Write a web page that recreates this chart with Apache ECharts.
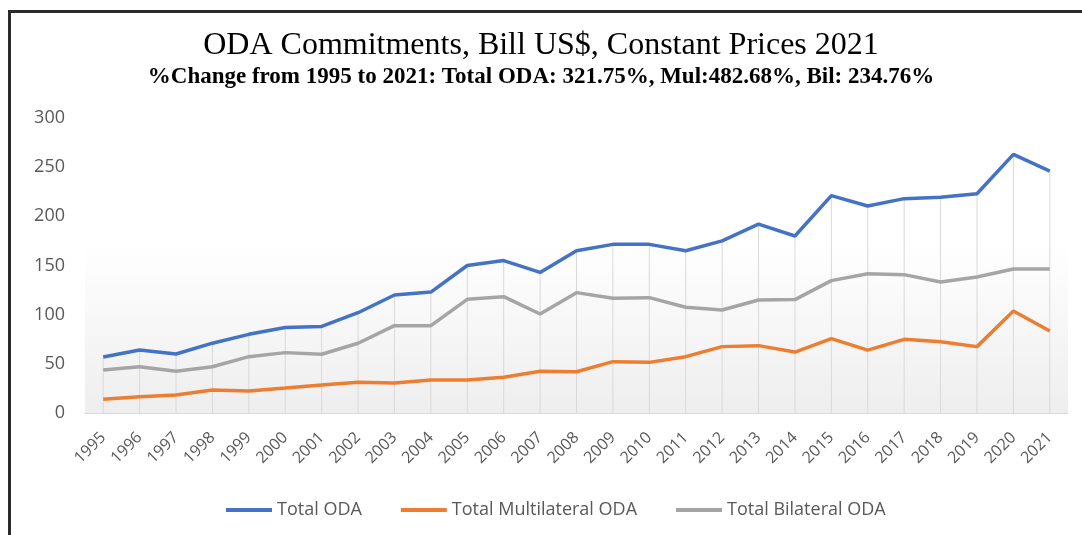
<!DOCTYPE html>
<html>
<head>
<meta charset="utf-8">
<script src="https://cdn.jsdelivr.net/npm/echarts@6/dist/echarts.min.js"></script>
<style>
  html, body { margin: 0; padding: 0; background: #fff; }
  #chart { width: 1082px; height: 535px; }
</style>
</head>
<body>
<div id="chart"></div>
<script>
const years = ["1995","1996","1997","1998","1999","2000","2001","2002","2003","2004","2005","2006","2007",
  "2008","2009","2010","2011","2012","2013","2014","2015","2016","2017","2018","2019","2020","2021"];

const totalOda = [57, 64, 60, 71, 80, 87, 88, 102, 120, 123, 150, 155, 143,
  165, 171.5, 171.5, 165, 175, 192, 180, 221, 210.5, 218, 219.5, 223, 263, 246];

const multilateralOda = [14, 16.6, 18.3, 23.4, 22.4, 25.4, 28.5, 31.2, 30.5, 33.6, 33.6, 36.3, 42.4,
  42, 52.2, 51.5, 57.3, 67.5, 68.5, 62, 75.6, 64, 74.9, 72.5, 67.5, 103.7, 83.4];

const bilateralOda = [43.7, 47, 42.4, 47, 57.3, 61.4, 59.7, 70.9, 88.8, 88.8, 115.6, 118.3, 100.7,
  122.4, 116.6, 117.3, 107.5, 104.7, 114.9, 115.3, 134.6, 141.7, 140.7, 133.2, 138.3, 146.4, 146.4];

const titleText = "ODA Commitments, Bill US$, Constant Prices 2021";
const subtitleText = "%Change from 1995 to 2021: Total ODA: 321.75%, Mul:482.68%, Bil: 234.76%";

const labelColor = "#595959";
const sansFont = "Open Sans";

const chart = echarts.init(document.getElementById("chart"));

chart.setOption({
  animation: false,
  backgroundColor: "#ffffff",
  title: {
    text: titleText,
    subtext: subtitleText,
    left: "center",
    top: 25,
    itemGap: 4,
    textStyle: {
      fontFamily: "Liberation Serif",
      fontWeight: "normal",
      fontSize: 32,
      color: "#000"
    },
    subtextStyle: {
      fontFamily: "Liberation Serif",
      fontWeight: "bold",
      fontSize: 23,
      color: "#000"
    }
  },
  // frame lines at the top and on the left
  graphic: [
    { type: "rect", shape: { x: 8, y: 10, width: 1074, height: 3 }, style: { fill: "#2b2b2b" } },
    { type: "rect", shape: { x: 8, y: 10, width: 3, height: 525 }, style: { fill: "#2b2b2b" } }
  ],
  legend: {
    data: ["Total ODA", "Total Multilateral ODA", "Total Bilateral ODA"],
    bottom: 11,
    left: 221,
    icon: "rect",
    itemWidth: 46,
    itemHeight: 4,
    itemGap: 39,
    textStyle: { color: labelColor, fontFamily: sansFont, fontSize: 18 }
  },
  grid: {
    left: 85,
    right: 14,
    top: 118,
    bottom: 122,
    show: true,
    borderWidth: 0,
    backgroundColor: new echarts.graphic.LinearGradient(0, 0, 0, 1, [
      { offset: 0, color: "#ffffff" },
      { offset: 0.42, color: "#ffffff" },
      { offset: 1, color: "#eeeeee" }
    ])
  },
  xAxis: {
    type: "category",
    data: years,
    boundaryGap: true,
    axisLine: { lineStyle: { color: "#d9d9d9", width: 1 } },
    axisTick: { show: false },
    axisLabel: {
      rotate: 45,
      margin: 22,
      color: labelColor,
      fontFamily: sansFont,
      fontSize: 16,
      interval: 0
    },
    splitLine: { show: false }
  },
  yAxis: {
    type: "value",
    min: 0,
    max: 300,
    interval: 50,
    axisLine: { show: false },
    axisTick: { show: false },
    splitLine: { show: false },
    axisLabel: {
      margin: 20,
      color: labelColor,
      fontFamily: sansFont,
      fontSize: 18
    }
  },
  series: [
    {
      // drop lines from the axis up to the highest series
      name: "drop",
      type: "bar",
      data: totalOda,
      barWidth: 1,
      silent: true,
      z: 1,
      itemStyle: { color: "#d9d9d9" }
    },
    {
      name: "Total ODA",
      type: "line",
      data: totalOda,
      symbol: "none",
      z: 5,
      lineStyle: { width: 3.5, color: "#4472c4" },
      itemStyle: { color: "#4472c4" }
    },
    {
      name: "Total Multilateral ODA",
      type: "line",
      data: multilateralOda,
      symbol: "none",
      z: 5,
      lineStyle: { width: 3.5, color: "#ed7d31" },
      itemStyle: { color: "#ed7d31" }
    },
    {
      name: "Total Bilateral ODA",
      type: "line",
      data: bilateralOda,
      symbol: "none",
      z: 5,
      lineStyle: { width: 3.5, color: "#a5a5a5" },
      itemStyle: { color: "#a5a5a5" }
    }
  ]
});
</script>
</body>
</html>
